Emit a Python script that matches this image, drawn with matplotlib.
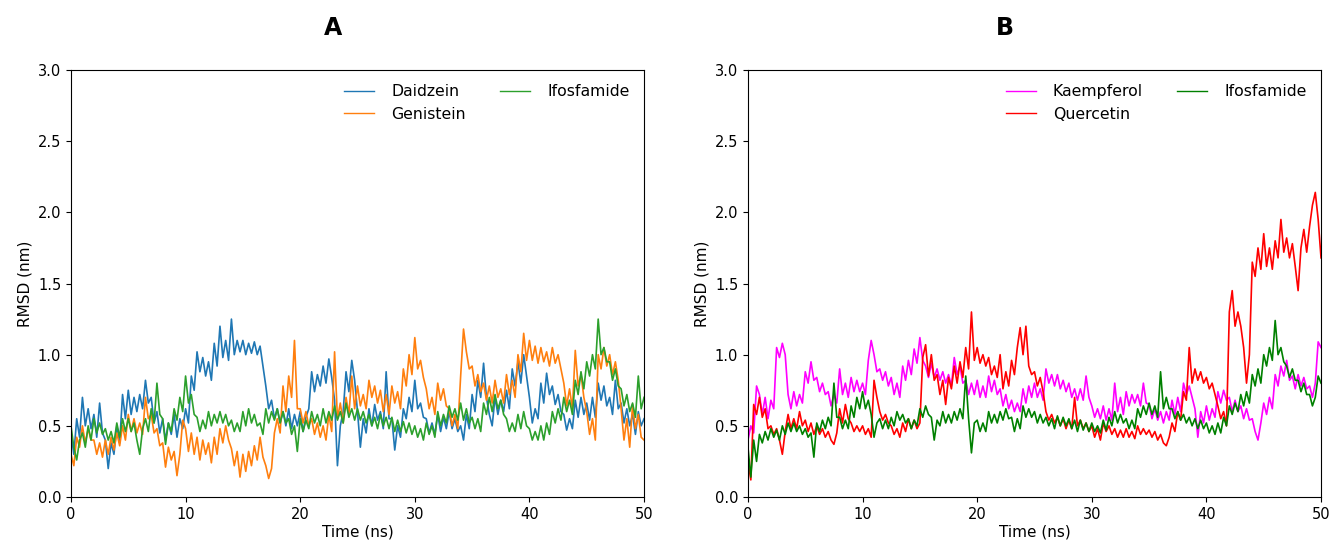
import numpy as np
import matplotlib
matplotlib.use("Agg")
from matplotlib import pyplot as plt

# time axis: 0 .. 50 ns every 0.25 ns
time_ns = np.arange(0, 50.01, 0.25)

# panel A (upper/lower edge of the noisy band)
daidzein = [
    0.45, 0.30, 0.55, 0.42, 0.70, 0.50, 0.62, 0.48, 0.58, 0.42, 0.66, 0.45,
    0.40, 0.20, 0.38, 0.30, 0.50, 0.38, 0.72, 0.55, 0.75, 0.58, 0.70, 0.60,
    0.72, 0.62, 0.82, 0.66, 0.70, 0.52, 0.60, 0.45, 0.55, 0.40, 0.52, 0.44,
    0.58, 0.42, 0.55, 0.48, 0.62, 0.52, 0.85, 0.75, 1.02, 0.88, 0.98, 0.85,
    0.95, 0.82, 1.08, 0.92, 1.20, 0.98, 1.10, 0.96, 1.25, 1.00, 1.10, 1.02,
    1.10, 1.00, 1.08, 1.01, 1.09, 1.00, 1.06, 0.92, 0.78, 0.62, 0.68, 0.55,
    0.62, 0.52, 0.60, 0.50, 0.62, 0.48, 0.58, 0.50, 0.60, 0.46, 0.56, 0.62,
    0.88, 0.74, 0.86, 0.78, 0.92, 0.80, 0.97, 0.84, 0.68, 0.22, 0.50, 0.60,
    0.88, 0.74, 0.96, 0.82, 0.60, 0.35, 0.55, 0.45, 0.62, 0.50, 0.65, 0.54,
    0.60, 0.48, 0.88, 0.55, 0.55, 0.33, 0.50, 0.42, 0.62, 0.55, 0.70, 0.60,
    0.82, 0.62, 0.66, 0.56, 0.55, 0.45, 0.52, 0.44, 0.58, 0.46, 0.56, 0.48,
    0.60, 0.48, 0.55, 0.46, 0.50, 0.40, 0.58, 0.48, 0.72, 0.60, 0.82, 0.70,
    0.94, 0.70, 0.58, 0.50, 0.70, 0.58, 0.68, 0.60, 0.75, 0.62, 0.90, 0.78,
    0.95, 0.80, 1.00, 0.85, 0.70, 0.52, 0.62, 0.55, 0.80, 0.66, 0.87, 0.72,
    0.78, 0.65, 0.72, 0.60, 0.58, 0.47, 0.55, 0.48, 0.68, 0.56, 0.70, 0.58,
    0.66, 0.54, 0.70, 0.56, 0.80, 0.68, 0.78, 0.64, 0.70, 0.58, 0.82, 0.62,
    0.66, 0.52, 0.62, 0.50, 0.58, 0.44, 0.60, 0.50, 0.55,
]
genistein = [
    0.30, 0.22, 0.42, 0.35, 0.50, 0.38, 0.48, 0.40, 0.40, 0.30, 0.38, 0.28,
    0.40, 0.30, 0.42, 0.33, 0.45, 0.36, 0.50, 0.40, 0.58, 0.46, 0.55, 0.45,
    0.52, 0.44, 0.70, 0.55, 0.58, 0.45, 0.48, 0.36, 0.38, 0.21, 0.35, 0.26,
    0.32, 0.15, 0.30, 0.54, 0.48, 0.32, 0.45, 0.30, 0.42, 0.26, 0.40, 0.30,
    0.38, 0.24, 0.42, 0.30, 0.48, 0.38, 0.50, 0.40, 0.34, 0.22, 0.32, 0.14,
    0.30, 0.18, 0.32, 0.22, 0.36, 0.26, 0.42, 0.28, 0.22, 0.13, 0.20, 0.45,
    0.55, 0.45, 0.78, 0.60, 0.85, 0.70, 1.10, 0.62, 0.62, 0.52, 0.60, 0.50,
    0.55, 0.44, 0.52, 0.42, 0.50, 0.40, 0.58, 0.46, 1.02, 0.55, 0.66, 0.52,
    0.70, 0.58, 0.85, 0.62, 0.78, 0.64, 0.72, 0.62, 0.82, 0.70, 0.78, 0.66,
    0.75, 0.60, 0.72, 0.58, 0.78, 0.66, 0.74, 0.62, 0.90, 0.78, 1.00, 0.86,
    1.12, 0.90, 0.96, 0.84, 0.76, 0.62, 0.70, 0.58, 0.80, 0.68, 0.76, 0.64,
    0.62, 0.50, 0.58, 0.48, 0.85, 1.18, 1.02, 0.90, 0.92, 0.78, 0.86, 0.74,
    0.80, 0.68, 0.78, 0.66, 0.82, 0.70, 0.76, 0.66, 0.86, 0.72, 0.82, 0.70,
    1.00, 0.88, 1.15, 0.96, 1.10, 0.96, 1.06, 0.94, 1.05, 0.95, 1.02, 0.92,
    1.05, 0.94, 1.00, 0.90, 0.80, 0.64, 0.76, 0.62, 1.03, 0.78, 0.86, 0.70,
    0.60, 0.44, 0.55, 0.40, 1.00, 0.90, 1.05, 0.92, 1.00, 0.86, 0.95, 0.82,
    0.62, 0.40, 0.55, 0.35, 0.65, 0.48, 0.58, 0.42, 0.40,
]
ifosfamide_a = [
    0.50, 0.35, 0.26, 0.40, 0.45, 0.35, 0.50, 0.40, 0.55, 0.45, 0.52, 0.44,
    0.48, 0.40, 0.46, 0.38, 0.52, 0.42, 0.55, 0.46, 0.55, 0.46, 0.52, 0.40,
    0.30, 0.48, 0.55, 0.46, 0.62, 0.52, 0.80, 0.58, 0.55, 0.37, 0.52, 0.46,
    0.62, 0.54, 0.70, 0.60, 0.85, 0.66, 0.72, 0.58, 0.56, 0.46, 0.54, 0.48,
    0.60, 0.50, 0.58, 0.52, 0.60, 0.52, 0.58, 0.50, 0.54, 0.46, 0.52, 0.46,
    0.60, 0.50, 0.62, 0.52, 0.58, 0.50, 0.52, 0.44, 0.62, 0.52, 0.60, 0.54,
    0.62, 0.52, 0.60, 0.52, 0.55, 0.44, 0.50, 0.32, 0.55, 0.46, 0.54, 0.48,
    0.60, 0.52, 0.58, 0.50, 0.62, 0.52, 0.60, 0.54, 0.64, 0.54, 0.60, 0.52,
    0.66, 0.56, 0.62, 0.54, 0.62, 0.54, 0.60, 0.52, 0.58, 0.50, 0.56, 0.48,
    0.58, 0.50, 0.56, 0.48, 0.56, 0.46, 0.54, 0.46, 0.53, 0.45, 0.52, 0.44,
    0.50, 0.42, 0.48, 0.40, 0.52, 0.44, 0.50, 0.42, 0.60, 0.50, 0.58, 0.52,
    0.64, 0.56, 0.62, 0.54, 0.66, 0.54, 0.62, 0.52, 0.56, 0.48, 0.55, 0.46,
    0.66, 0.58, 0.70, 0.60, 0.72, 0.62, 0.68, 0.58, 0.55, 0.46, 0.52, 0.46,
    0.58, 0.48, 0.60, 0.50, 0.48, 0.40, 0.46, 0.40, 0.50, 0.40, 0.52, 0.44,
    0.60, 0.52, 0.62, 0.54, 0.70, 0.60, 0.68, 0.58, 0.82, 0.72, 0.88, 0.76,
    0.95, 0.85, 1.00, 0.90, 1.25, 1.00, 1.05, 0.95, 0.95, 0.82, 0.90, 0.78,
    0.76, 0.64, 0.72, 0.60, 0.66, 0.56, 0.85, 0.62, 0.70,
]

# panel B
kaempferol = [
    0.40, 0.50, 0.45, 0.78, 0.72, 0.58, 0.70, 0.55, 0.68, 0.62, 1.05, 0.98,
    1.08, 1.00, 0.72, 0.62, 0.74, 0.64, 0.72, 0.66, 0.88, 0.80, 0.95, 0.82,
    0.84, 0.74, 0.80, 0.72, 0.74, 0.64, 0.72, 0.66, 0.90, 0.72, 0.80, 0.70,
    0.84, 0.74, 0.82, 0.74, 0.80, 0.72, 0.96, 1.10, 1.00, 0.88, 0.90, 0.82,
    0.88, 0.78, 0.84, 0.72, 0.80, 0.70, 0.92, 0.82, 0.96, 0.86, 1.04, 0.94,
    1.12, 0.96, 0.92, 0.84, 0.94, 0.84, 0.90, 0.82, 0.88, 0.80, 0.86, 0.78,
    0.98, 0.86, 0.92, 0.80, 0.82, 0.72, 0.80, 0.72, 0.82, 0.70, 0.78, 0.70,
    0.85, 0.74, 0.82, 0.72, 0.76, 0.64, 0.72, 0.62, 0.68, 0.60, 0.66, 0.60,
    0.76, 0.66, 0.78, 0.70, 0.80, 0.70, 0.76, 0.68, 0.90, 0.80, 0.86, 0.78,
    0.86, 0.76, 0.82, 0.74, 0.80, 0.70, 0.76, 0.68, 0.76, 0.68, 0.85, 0.70,
    0.64, 0.56, 0.62, 0.55, 0.64, 0.54, 0.62, 0.54, 0.80, 0.60, 0.70, 0.58,
    0.74, 0.64, 0.72, 0.66, 0.72, 0.64, 0.80, 0.66, 0.65, 0.55, 0.62, 0.54,
    0.60, 0.52, 0.60, 0.54, 0.68, 0.58, 0.70, 0.60, 0.80, 0.72, 0.78, 0.70,
    0.62, 0.42, 0.60, 0.52, 0.64, 0.54, 0.62, 0.56, 0.74, 0.66, 0.75, 0.68,
    0.70, 0.60, 0.68, 0.60, 0.64, 0.55, 0.62, 0.54, 0.55, 0.46, 0.40, 0.52,
    0.66, 0.58, 0.70, 0.62, 0.86, 0.78, 0.92, 0.85, 0.96, 0.82, 0.85, 0.76,
    0.86, 0.78, 0.84, 0.76, 0.78, 0.70, 0.80, 1.09, 1.05,
]
quercetin = [
    0.25, 0.12, 0.65, 0.58, 0.70, 0.56, 0.62, 0.48, 0.50, 0.44, 0.48, 0.40,
    0.30, 0.46, 0.58, 0.48, 0.55, 0.48, 0.60, 0.50, 0.54, 0.46, 0.52, 0.44,
    0.50, 0.44, 0.48, 0.42, 0.46, 0.40, 0.37, 0.45, 0.62, 0.52, 0.65, 0.55,
    0.52, 0.46, 0.50, 0.46, 0.50, 0.44, 0.48, 0.42, 0.82, 0.70, 0.60, 0.54,
    0.58, 0.52, 0.50, 0.44, 0.48, 0.42, 0.52, 0.46, 0.55, 0.48, 0.54, 0.48,
    0.52, 0.98, 1.07, 0.85, 1.00, 0.82, 0.86, 0.72, 0.82, 0.65, 0.84, 0.76,
    0.92, 0.80, 0.95, 0.84, 1.05, 0.90, 1.30, 0.96, 1.05, 0.94, 1.00, 0.92,
    0.98, 0.86, 0.92, 0.84, 1.00, 0.76, 0.88, 0.78, 0.96, 0.86, 1.05, 1.19,
    1.00, 1.20, 0.92, 0.86, 0.88, 0.78, 0.84, 0.74, 0.60, 0.54, 0.58, 0.52,
    0.56, 0.50, 0.55, 0.48, 0.54, 0.48, 0.70, 0.50, 0.54, 0.48, 0.52, 0.46,
    0.50, 0.42, 0.48, 0.40, 0.52, 0.46, 0.50, 0.44, 0.48, 0.42, 0.47, 0.42,
    0.48, 0.42, 0.46, 0.41, 0.50, 0.44, 0.48, 0.44, 0.47, 0.42, 0.46, 0.40,
    0.44, 0.38, 0.36, 0.42, 0.52, 0.46, 0.60, 0.54, 0.74, 0.68, 1.05, 0.80,
    0.90, 0.82, 0.88, 0.80, 0.84, 0.76, 0.80, 0.72, 0.64, 0.55, 0.60, 0.50,
    1.30, 1.45, 1.20, 1.30, 1.20, 1.05, 0.80, 1.00, 1.65, 1.55, 1.75, 1.60,
    1.85, 1.62, 1.75, 1.60, 1.80, 1.68, 1.95, 1.72, 1.82, 1.68, 1.78, 1.62,
    1.45, 1.75, 1.88, 1.72, 1.90, 2.05, 2.14, 1.95, 1.68,
]
ifosfamide_b = [
    0.35, 0.14, 0.40, 0.25, 0.44, 0.38, 0.46, 0.40, 0.48, 0.42, 0.47, 0.40,
    0.50, 0.44, 0.52, 0.46, 0.52, 0.46, 0.50, 0.44, 0.48, 0.42, 0.45, 0.28,
    0.52, 0.46, 0.54, 0.48, 0.56, 0.50, 0.80, 0.56, 0.56, 0.48, 0.54, 0.48,
    0.64, 0.56, 0.70, 0.62, 0.74, 0.62, 0.68, 0.58, 0.42, 0.52, 0.55, 0.48,
    0.54, 0.48, 0.56, 0.50, 0.60, 0.54, 0.58, 0.52, 0.55, 0.48, 0.54, 0.50,
    0.62, 0.56, 0.64, 0.58, 0.56, 0.40, 0.54, 0.50, 0.60, 0.52, 0.58, 0.52,
    0.60, 0.54, 0.62, 0.55, 0.85, 0.55, 0.31, 0.52, 0.54, 0.46, 0.52, 0.46,
    0.60, 0.52, 0.58, 0.52, 0.60, 0.54, 0.62, 0.55, 0.56, 0.46, 0.55, 0.48,
    0.64, 0.56, 0.62, 0.56, 0.60, 0.52, 0.58, 0.52, 0.56, 0.50, 0.55, 0.48,
    0.57, 0.50, 0.56, 0.50, 0.55, 0.48, 0.54, 0.46, 0.54, 0.47, 0.52, 0.46,
    0.52, 0.46, 0.50, 0.45, 0.54, 0.47, 0.56, 0.50, 0.60, 0.52, 0.58, 0.52,
    0.55, 0.48, 0.54, 0.48, 0.62, 0.56, 0.64, 0.58, 0.66, 0.58, 0.64, 0.56,
    0.88, 0.62, 0.70, 0.62, 0.62, 0.55, 0.60, 0.54, 0.58, 0.52, 0.56, 0.50,
    0.55, 0.48, 0.54, 0.48, 0.52, 0.45, 0.50, 0.44, 0.52, 0.45, 0.56, 0.50,
    0.64, 0.58, 0.66, 0.60, 0.72, 0.64, 0.74, 0.66, 0.86, 0.78, 0.90, 0.80,
    1.00, 0.92, 1.05, 0.96, 1.24, 1.00, 1.05, 0.95, 0.92, 0.84, 0.90, 0.82,
    0.82, 0.74, 0.80, 0.72, 0.72, 0.64, 0.70, 0.85, 0.80,
]

fig = plt.figure(figsize=(13.29, 5.44), dpi=100)
ax_a = fig.add_axes([0.0534, 0.0864, 0.4312, 0.7849])
ax_b = fig.add_axes([0.5628, 0.0864, 0.4312, 0.7849])

ax_a.plot(time_ns, daidzein, color="#1f77b4", lw=1.2, label="Daidzein")
ax_a.plot(time_ns, genistein, color="#ff7f0e", lw=1.2, label="Genistein")
ax_a.plot(time_ns, ifosfamide_a, color="#2ca02c", lw=1.2, label="Ifosfamide")

ax_b.plot(time_ns, kaempferol, color="magenta", lw=1.2, label="Kaempferol")
ax_b.plot(time_ns, quercetin, color="red", lw=1.2, label="Quercetin")
ax_b.plot(time_ns, ifosfamide_b, color="green", lw=1.2, label="Ifosfamide")

for ax in (ax_a, ax_b):
    ax.set_xlim(0, 50)
    ax.set_ylim(0, 3.0)
    ax.set_xticks(np.arange(0, 51, 10))
    ax.set_yticks(np.arange(0, 3.01, 0.5))
    ax.tick_params(labelsize=10.5)
    ax.set_xlabel("Time (ns)", fontsize=11, labelpad=2)
    ax.set_ylabel("RMSD (nm)", fontsize=11)
    leg = ax.legend(loc="upper right", ncol=2, frameon=False, fontsize=11.3,
                    handlelength=1.9, handletextpad=1.1, columnspacing=2.2)
    for line in leg.get_lines():
        line.set_linewidth(1.0)

fig.text(0.2506, 0.948, "A", fontsize=17, fontweight="bold", ha="center", va="center")
fig.text(0.7562, 0.948, "B", fontsize=17, fontweight="bold", ha="center", va="center")

fig.savefig("out.png", dpi=100)
